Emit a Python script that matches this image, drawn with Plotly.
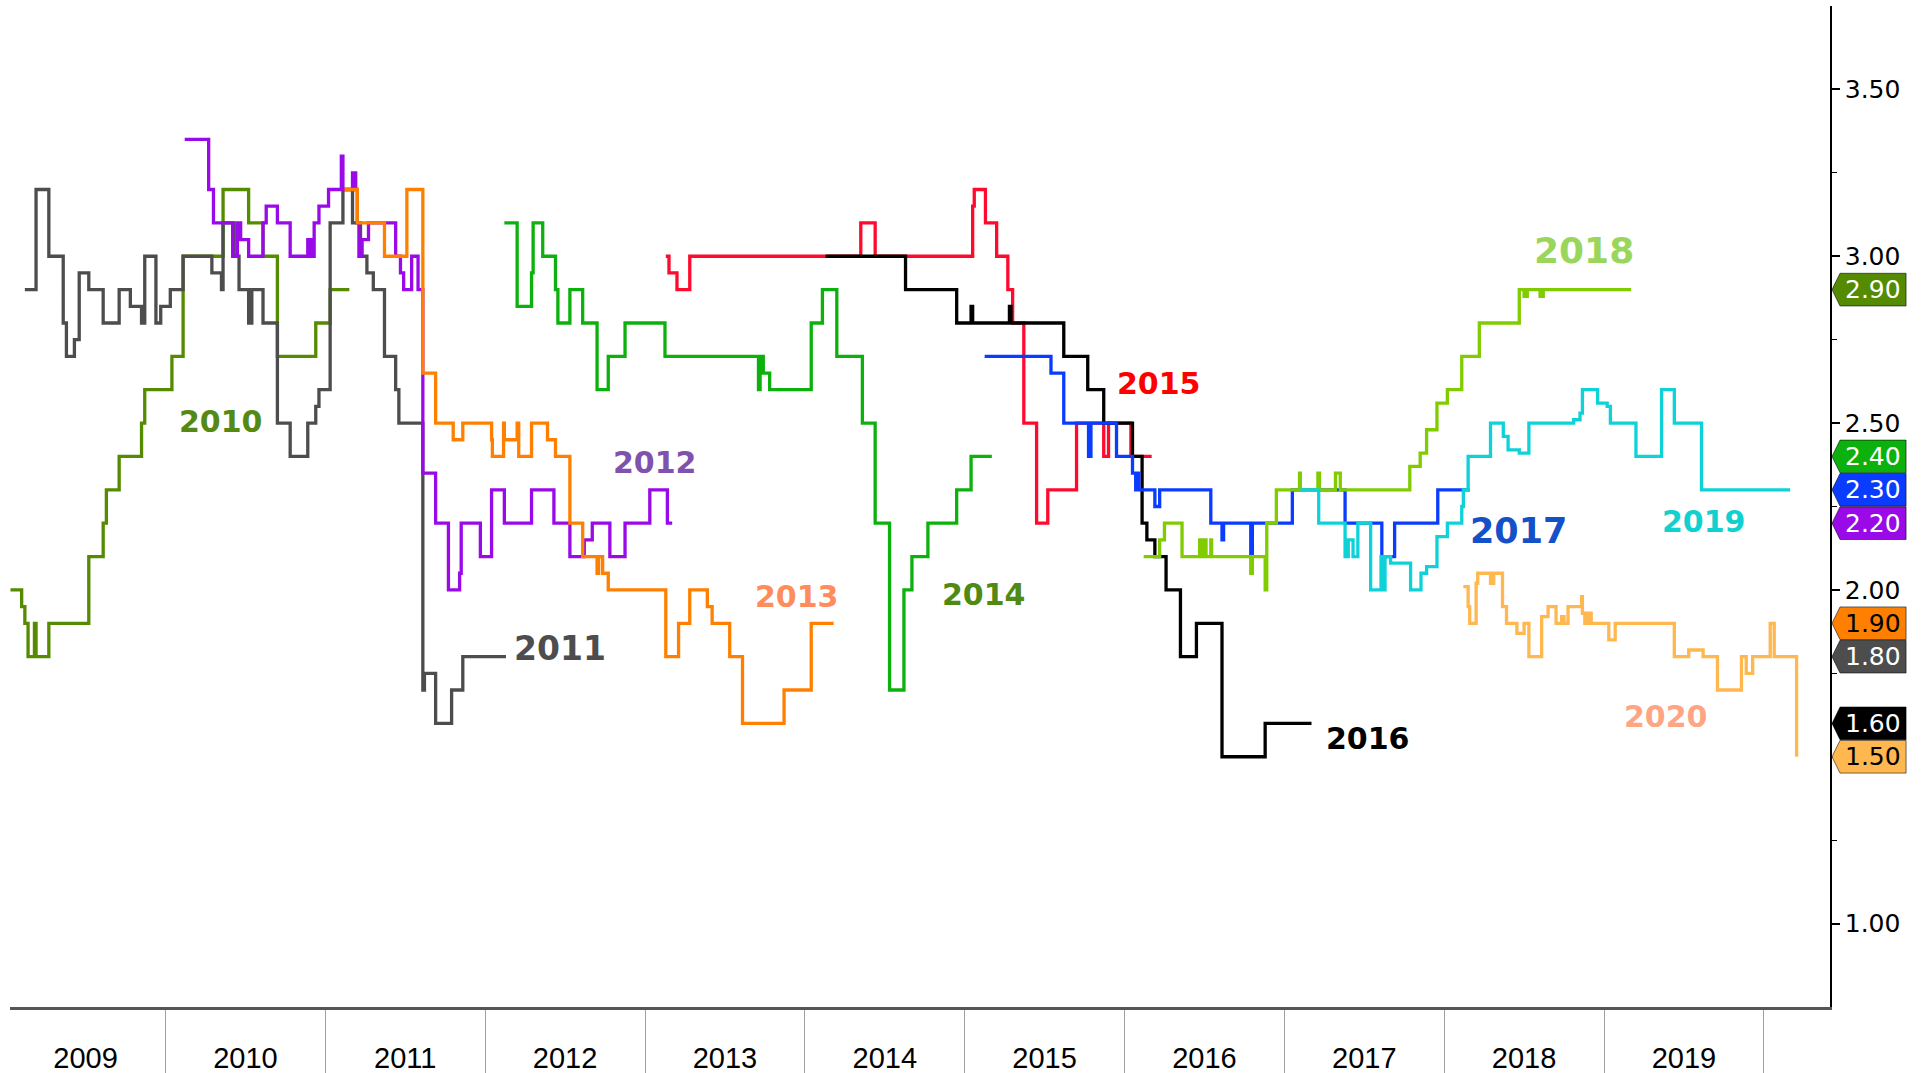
import plotly.graph_objects as go

# ---------------- data (decimal-year dates of each step change, value) ----------------
x_2010 = [2009.03, 2009.10, 2009.12, 2009.14, 2009.18, 2009.19, 2009.27, 2009.52, 2009.61, 2009.63,
          2009.71, 2009.85, 2009.87, 2010.04, 2010.11, 2010.36, 2010.52, 2010.61, 2010.70, 2010.94,
          2011.03, 2011.15]
y_2010 = [2.00, 1.95, 1.90, 1.80, 1.90, 1.80, 1.90, 2.10, 2.20, 2.30,
          2.40, 2.50, 2.60, 2.70, 3.00, 3.20, 3.10, 3.00, 2.70, 2.80,
          2.90, 2.90]

x_2011 = [2009.12, 2009.19, 2009.27, 2009.36, 2009.38, 2009.43, 2009.46, 2009.52, 2009.61, 2009.71,
          2009.78, 2009.85, 2009.87, 2009.94, 2009.97, 2010.03, 2010.11, 2010.29, 2010.35, 2010.36,
          2010.43, 2010.46, 2010.52, 2010.54, 2010.61, 2010.70, 2010.78, 2010.89, 2010.94, 2010.96,
          2011.03, 2011.11, 2011.17, 2011.22, 2011.26, 2011.30, 2011.37, 2011.44, 2011.46, 2011.61,
          2011.62, 2011.69, 2011.79, 2011.86, 2012.13]
y_2011 = [2.90, 3.20, 3.00, 2.80, 2.70, 2.75, 2.95, 2.90, 2.80, 2.90,
          2.85, 2.80, 3.00, 2.80, 2.85, 2.90, 3.00, 2.95, 2.90, 3.10,
          3.00, 2.90, 2.80, 2.90, 2.80, 2.50, 2.40, 2.50, 2.55, 2.60,
          3.10, 3.20, 3.10, 3.00, 2.95, 2.90, 2.70, 2.60, 2.50, 1.70,
          1.75, 1.60, 1.70, 1.80, 1.80]

x_2012 = [2010.12, 2010.27, 2010.30, 2010.42, 2010.45, 2010.47, 2010.52, 2010.61, 2010.63, 2010.70,
          2010.78, 2010.89, 2010.91, 2010.93, 2010.96, 2011.02, 2011.10, 2011.11, 2011.17, 2011.19,
          2011.20, 2011.21, 2011.23, 2011.27, 2011.44, 2011.47, 2011.49, 2011.54, 2011.58, 2011.61,
          2011.69, 2011.77, 2011.84, 2011.85, 2011.97, 2012.04, 2012.12, 2012.29, 2012.43, 2012.53,
          2012.62, 2012.67, 2012.78, 2012.875, 2013.03, 2013.14, 2013.17]
y_2012 = [3.35, 3.20, 3.10, 3.00, 3.10, 3.05, 3.00, 3.10, 3.15, 3.10,
          3.00, 3.05, 3.00, 3.10, 3.15, 3.20, 3.30, 3.20, 3.25, 3.20,
          3.10, 3.00, 3.05, 3.10, 3.00, 2.95, 2.90, 3.00, 2.90, 2.35,
          2.20, 2.00, 2.05, 2.20, 2.10, 2.30, 2.20, 2.30, 2.20, 2.10,
          2.15, 2.20, 2.10, 2.20, 2.30, 2.20, 2.20]

x_2013 = [2011.12, 2011.20, 2011.37, 2011.51, 2011.61, 2011.69, 2011.80, 2011.86, 2012.04, 2012.045,
          2012.115, 2012.12, 2012.20, 2012.21, 2012.29, 2012.39, 2012.44, 2012.53, 2012.61, 2012.70,
          2012.71, 2012.735, 2012.77, 2013.13, 2013.21, 2013.28, 2013.39, 2013.42, 2013.53, 2013.61,
          2013.87, 2014.04, 2014.18]
y_2013 = [3.20, 3.10, 3.00, 3.20, 2.65, 2.50, 2.45, 2.50, 2.45, 2.40,
          2.50, 2.45, 2.50, 2.40, 2.50, 2.45, 2.40, 2.20, 2.10, 2.05,
          2.10, 2.05, 2.00, 1.80, 1.90, 2.00, 1.95, 1.90, 1.80, 1.60,
          1.70, 1.90, 1.90]

x_2014 = [2012.12, 2012.20, 2012.29, 2012.30, 2012.36, 2012.44, 2012.455, 2012.53, 2012.61, 2012.70,
          2012.77, 2012.875, 2013.125, 2013.71, 2013.72, 2013.74, 2013.78, 2014.04, 2014.11, 2014.20,
          2014.36, 2014.44, 2014.53, 2014.62, 2014.67, 2014.77, 2014.95, 2015.04, 2015.17]
y_2014 = [3.10, 2.85, 2.95, 3.10, 3.00, 2.90, 2.80, 2.90, 2.80, 2.60,
          2.70, 2.80, 2.70, 2.60, 2.70, 2.65, 2.60, 2.80, 2.90, 2.70,
          2.50, 2.20, 1.70, 2.00, 2.10, 2.20, 2.30, 2.40, 2.40]

x_2015 = [2013.13, 2013.15, 2013.20, 2013.28, 2014.35, 2014.44, 2015.05, 2015.06, 2015.13, 2015.20,
          2015.27, 2015.30, 2015.37, 2015.45, 2015.52, 2015.70, 2015.87, 2015.90, 2016.04, 2016.17]
y_2015 = [3.00, 2.95, 2.90, 3.00, 3.10, 3.00, 3.15, 3.20, 3.10, 3.00,
          2.90, 2.80, 2.50, 2.20, 2.30, 2.50, 2.40, 2.50, 2.40, 2.40]

x_2016 = [2014.13, 2014.63, 2014.95, 2015.04, 2015.05, 2015.28, 2015.29, 2015.62, 2015.77, 2015.87,
          2016.05, 2016.11, 2016.14, 2016.19, 2016.26, 2016.35, 2016.45, 2016.61, 2016.88, 2017.17]
y_2016 = [3.00, 2.90, 2.80, 2.85, 2.80, 2.85, 2.80, 2.70, 2.60, 2.50,
          2.40, 2.20, 2.15, 2.10, 2.00, 1.80, 1.90, 1.50, 1.60, 1.60]

x_2017 = [2015.125, 2015.54, 2015.62, 2015.775, 2015.79, 2015.95, 2016.05, 2016.07, 2016.08, 2016.09,
          2016.19, 2016.22, 2016.54, 2016.61, 2016.62, 2016.79, 2016.80, 2017.05, 2017.38, 2017.61,
          2017.69, 2017.96, 2018.16]
y_2017 = [2.70, 2.65, 2.50, 2.40, 2.50, 2.40, 2.35, 2.30, 2.35, 2.30,
          2.25, 2.30, 2.20, 2.15, 2.20, 2.10, 2.20, 2.30, 2.20, 2.10,
          2.20, 2.30, 2.30]

x_2018 = [2016.12, 2016.22, 2016.25, 2016.36, 2016.47, 2016.48, 2016.50, 2016.51, 2016.54, 2016.545,
          2016.79, 2016.80, 2016.88, 2016.89, 2016.95, 2017.095, 2017.10, 2017.21, 2017.22, 2017.32,
          2017.35, 2017.785, 2017.85, 2017.89, 2017.955, 2018.02, 2018.11, 2018.22, 2018.47, 2018.50,
          2018.52, 2018.60, 2018.62, 2019.17]
y_2018 = [2.10, 2.15, 2.20, 2.10, 2.15, 2.10, 2.15, 2.10, 2.15, 2.10,
          2.05, 2.10, 2.00, 2.20, 2.30, 2.35, 2.30, 2.35, 2.30, 2.35,
          2.30, 2.37, 2.41, 2.48, 2.56, 2.60, 2.70, 2.80, 2.90, 2.88,
          2.90, 2.88, 2.90, 2.90]

x_2019 = [2017.10, 2017.215, 2017.38, 2017.40, 2017.43, 2017.46, 2017.54, 2017.605, 2017.62, 2017.63,
          2017.665, 2017.79, 2017.855, 2017.89, 2017.955, 2018.02, 2018.11, 2018.12, 2018.15, 2018.29,
          2018.37, 2018.40, 2018.47, 2018.53, 2018.81, 2018.85, 2018.865, 2018.96, 2019.02, 2019.04,
          2019.20, 2019.36, 2019.44, 2019.61, 2020.165]
y_2019 = [2.30, 2.20, 2.10, 2.15, 2.10, 2.20, 2.00, 2.10, 2.00, 2.10,
          2.08, 2.00, 2.05, 2.07, 2.16, 2.20, 2.25, 2.30, 2.40, 2.50,
          2.46, 2.42, 2.41, 2.50, 2.51, 2.53, 2.60, 2.56, 2.55, 2.50,
          2.40, 2.60, 2.50, 2.30, 2.30]

x_2020 = [2018.12, 2018.15, 2018.16, 2018.20, 2018.21, 2018.29, 2018.31, 2018.365, 2018.39, 2018.455,
          2018.50, 2018.53, 2018.61, 2018.65, 2018.70, 2018.735, 2018.75, 2018.775, 2018.86, 2018.865,
          2018.88, 2018.90, 2018.92, 2019.03, 2019.07, 2019.44, 2019.53, 2019.62, 2019.71, 2019.86,
          2019.89, 2019.93, 2020.04, 2020.065, 2020.205]
y_2020 = [2.01, 1.95, 1.90, 2.02, 2.05, 2.02, 2.05, 1.95, 1.90, 1.87,
          1.90, 1.80, 1.92, 1.95, 1.90, 1.92, 1.90, 1.95, 1.98, 1.93,
          1.90, 1.93, 1.90, 1.85, 1.90, 1.80, 1.82, 1.80, 1.70, 1.80,
          1.75, 1.80, 1.90, 1.80, 1.50]

series_names = ["2010", "2011", "2012", "2013", "2014", "2015",
                "2016", "2017", "2018", "2019", "2020"]
series_data = {
    "2010": (x_2010, y_2010), "2011": (x_2011, y_2011), "2012": (x_2012, y_2012),
    "2013": (x_2013, y_2013), "2014": (x_2014, y_2014), "2015": (x_2015, y_2015),
    "2016": (x_2016, y_2016), "2017": (x_2017, y_2017), "2018": (x_2018, y_2018),
    "2019": (x_2019, y_2019), "2020": (x_2020, y_2020),
}

year_labels = ["2009", "2010", "2011", "2012", "2013", "2014",
               "2015", "2016", "2017", "2018", "2019"]
year_boundaries = [2010, 2011, 2012, 2013, 2014, 2015, 2016, 2017, 2018, 2019, 2020]
y_ticks = [1.00, 1.50, 2.00, 2.50, 3.00, 3.50]
y_minor_ticks = [1.25, 1.75, 2.25, 2.75, 3.25]

# series whose last value is flagged on the right axis
badge_series = ["2010", "2014", "2017", "2012", "2013", "2011", "2016", "2020"]

# ---------------- styles ----------------
line_colors = {
    "2010": "#548b00", "2011": "#4d4d4d", "2012": "#9a0ae8", "2013": "#ff8000",
    "2014": "#0db10d", "2015": "#ff0a2e", "2016": "#000000", "2017": "#0a3cff",
    "2018": "#80cc00", "2019": "#0fd2d8", "2020": "#ffb74f",
}
label_colors = {
    "2010": "#548a14", "2011": "#4d4d4d", "2012": "#7f52ad", "2013": "#ff8c5a",
    "2014": "#4e8a14", "2015": "#ff0000", "2016": "#000000", "2017": "#1450c8",
    "2018": "#9ad65c", "2019": "#10d0d0", "2020": "#ffa584",
}
# label placement (x in decimal years, y in value units, font size)
label_place = {
    "2010": (2010.35, 2.506, 30), "2011": (2012.47, 1.825, 33), "2012": (2013.06, 2.382, 30),
    "2013": (2013.95, 1.979, 30), "2014": (2015.12, 1.986, 30), "2015": (2016.215, 2.619, 30),
    "2016": (2017.525, 1.555, 30), "2017": (2018.467, 2.177, 35), "2018": (2018.874, 3.018, 36),
    "2019": (2019.625, 2.206, 30), "2020": (2019.387, 1.621, 30),
}
badge_text_color = {"2013": "#000000", "2020": "#000000"}

AXIS_FONT = "Liberation Sans, Arial, sans-serif"
RIGHT_FONT = "DejaVu Sans, Verdana, sans-serif"
LABEL_FONT = "DejaVu Sans, Verdana, sans-serif"

fig = go.Figure()
for name in series_names:
    xs, ys = series_data[name]
    fig.add_trace(go.Scatter(
        x=xs, y=ys, mode="lines", name=name,
        line=dict(color=line_colors[name], width=3.3, shape="hv"),
        showlegend=False, hoverinfo="skip",
    ))

annotations = []
for name in series_names:
    lx, ly, fs = label_place[name]
    annotations.append(dict(
        x=lx, y=ly, xref="x", yref="y", text=name, showarrow=False,
        xanchor="center", yanchor="middle",
        font=dict(family=LABEL_FONT, size=fs, color=label_colors[name], weight="bold"),
    ))

shapes = []
tip, left, right, half = 1.0011, 1.0055, 1.0418, 0.049
for name in badge_series:
    v = series_data[name][1][-1]
    path = (f"M {tip},{v} L {left},{v + half} L {right},{v + half} "
            f"L {right},{v - half} L {left},{v - half} Z")
    shapes.append(dict(
        type="path", path=path, xref="paper", yref="y",
        fillcolor=line_colors[name], line=dict(color="rgba(0,0,0,0.55)", width=1),
        layer="above",
    ))
    annotations.append(dict(
        x=1.0238, y=v, xref="paper", yref="y", text=f"{v:.2f}", showarrow=False,
        xanchor="center", yanchor="middle",
        font=dict(family=RIGHT_FONT, size=25, color=badge_text_color.get(name, "#ffffff")),
    ))

fig.update_layout(
    width=1921, height=1073,
    margin=dict(l=10, r=91, t=6, b=66, autoexpand=False),
    paper_bgcolor="white", plot_bgcolor="white",
    showlegend=False,
    shapes=shapes, annotations=annotations,
    xaxis=dict(
        range=[2009.027, 2020.414],
        tickmode="array",
        tickvals=[int(t) + 0.5 for t in year_labels],
        ticktext=year_labels,
        ticks="outside", ticklen=23, tickcolor="rgba(0,0,0,0)",
        tickfont=dict(family=AXIS_FONT, size=29, color="#000000"),
        showgrid=False, zeroline=False,
        showline=True, linecolor="#555555", linewidth=2.5,
        minor=dict(tickmode="array", tickvals=year_boundaries, ticks="outside",
                   ticklen=66, tickcolor="#a0a0a0", tickwidth=1, showgrid=False),
    ),
    yaxis=dict(
        range=[0.75, 3.75], side="right",
        tickmode="array", tickvals=y_ticks,
        ticktext=["" if t == 1.5 else f"{t:.2f}" for t in y_ticks],
        ticks="outside", ticklen=8, tickwidth=2, tickcolor="#000000",
        tickfont=dict(family=RIGHT_FONT, size=25, color="#000000"),
        showgrid=False, zeroline=False,
        showline=True, linecolor="#000000", linewidth=1.5,
        minor=dict(tickmode="array", tickvals=y_minor_ticks, ticks="outside",
                   ticklen=5, tickcolor="#000000", tickwidth=1, showgrid=False),
    ),
)

fig.write_html("out.html",
               config={"displayModeBar": False},
               post_script="document.body.style.margin='0';document.body.style.overflow='hidden';")
